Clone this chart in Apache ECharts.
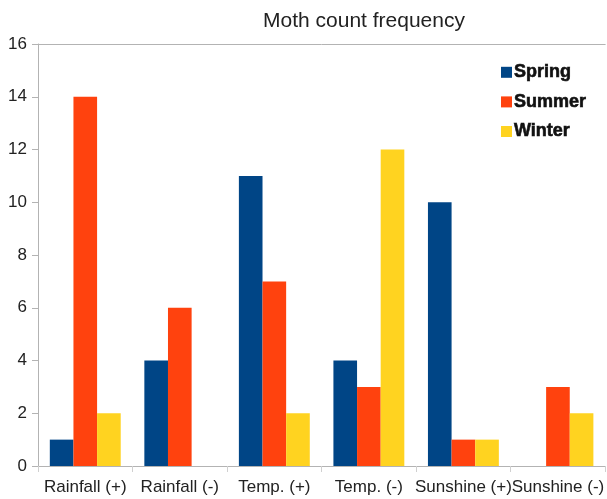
<!DOCTYPE html>
<html>
<head>
<meta charset="utf-8">
<script src="https://cdn.jsdelivr.net/npm/echarts@6/dist/echarts.min.js"></script>
<style>
  html, body { margin: 0; padding: 0; background: #fff; }
  #chart { width: 607px; height: 499px; }
</style>
</head>
<body>
<div id="chart"></div>
<script>
// Moth counts per weather condition, split by season
const categories = ['Rainfall (+)', 'Rainfall (-)', 'Temp. (+)', 'Temp. (-)', 'Sunshine (+)', 'Sunshine (-)'];
const spring = [1, 4, 11, 4, 10, 0];
const summer = [14, 6, 7, 3, 1, 3];
const winter = [2, 0, 2, 12, 1, 2];
const yTicks = [0, 2, 4, 6, 8, 10, 12, 14, 16];

const font = 'Liberation Sans, Arial, sans-serif';
const axisGrey = '#b3b3b3';

const chart = echarts.init(document.getElementById('chart'), null, { renderer: 'canvas' });

function bar(name, data, color) {
  return {
    name: name,
    type: 'bar',
    data: data,
    barGap: '0%',
    barCategoryGap: '25%',
    itemStyle: { color: color },
    emphasis: { disabled: true }
  };
}

chart.setOption({
  animation: false,
  backgroundColor: '#ffffff',
  title: {
    text: 'Moth count frequency',
    left: 258,
    top: 6,
    textStyle: { fontFamily: font, fontSize: 21, fontWeight: 'normal', color: '#222' }
  },
  legend: {
    orient: 'vertical',
    left: 496,
    top: 58,
    itemWidth: 11,
    itemHeight: 11,
    itemGap: 11,
    icon: 'rect',
    textStyle: {
      fontFamily: font, fontSize: 18, fontWeight: 'bold', color: '#111',
      textBorderColor: '#111', textBorderWidth: 0.6,
      padding: [0, 0, 0, -3]
    },
    data: ['Spring', 'Summer', 'Winter']
  },
  grid: { left: 38, right: -1, top: 44, bottom: 33, containLabel: false },
  xAxis: [
    {
      type: 'category',
      data: categories,
      boundaryGap: true,
      axisLine: { show: true, lineStyle: { color: axisGrey, width: 1 } },
      axisTick: { show: true, length: 6, lineStyle: { color: '#d0d0d0' } },
      axisLabel: { fontFamily: font, fontSize: 17, color: '#222', margin: 13, interval: 0 },
      splitLine: { show: false }
    },
    {
      // frame line along the top of the plot
      type: 'category',
      data: categories,
      position: 'top',
      axisLine: { show: true, lineStyle: { color: axisGrey, width: 1 } },
      axisTick: { show: false },
      axisLabel: { show: false }
    }
  ],
  yAxis: {
    type: 'value',
    min: yTicks[0],
    max: yTicks[yTicks.length - 1],
    interval: 2,
    axisLine: { show: true, lineStyle: { color: axisGrey, width: 1 } },
    axisTick: { show: true, length: 6, lineStyle: { color: axisGrey } },
    axisLabel: { fontFamily: font, fontSize: 17, color: '#222', margin: 11 },
    splitLine: { show: false }
  },
  series: [
    bar('Spring', spring, '#004586'),
    bar('Summer', summer, '#ff420e'),
    bar('Winter', winter, '#ffd320')
  ]
});
</script>
</body>
</html>
